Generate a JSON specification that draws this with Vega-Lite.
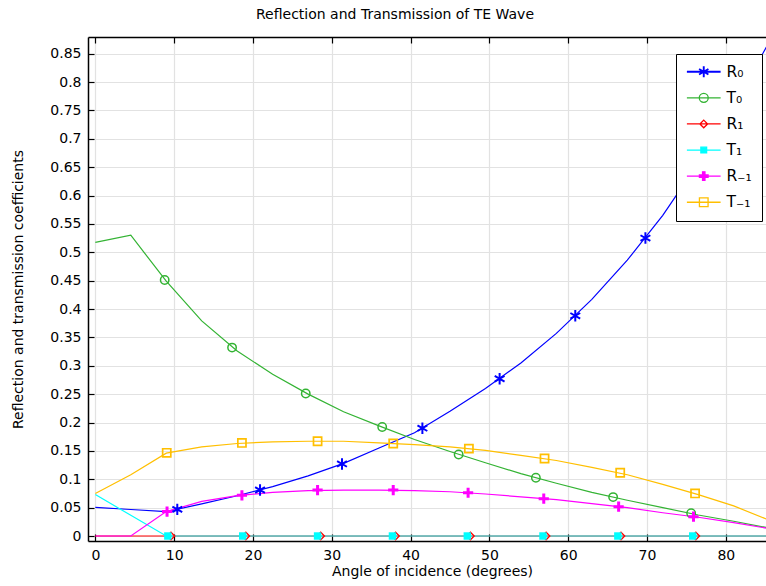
{
  "$schema": "https://vega.github.io/schema/vega-lite/v6.json",
  "width": 678,
  "height": 504,
  "autosize": {"type": "none"},
  "padding": {"left": 88, "top": 37, "right": 0, "bottom": 45},
  "background": "white",
  "title": {"text": "Reflection and Transmission of TE Wave", "fontSize": 14, "fontWeight": "normal", "font": "DejaVu Sans", "color": "black", "anchor": "middle", "dx": -32, "offset": 3, "baseline": "alphabetic"},
  "config": {
    "view": {"stroke": null},
    "font": "DejaVu Sans",
    "axis": {"labelFont": "DejaVu Sans", "titleFont": "DejaVu Sans", "labelFontSize": 14, "titleFontSize": 14, "titleFontWeight": "normal", "labelColor": "black", "titleColor": "black", "domainColor": "black", "domainWidth": 1.5, "tickColor": "black", "tickWidth": 1.2, "gridColor": "#e2e2e2", "gridWidth": 1.2, "gridOpacity": 1}
  },
  "resolve": {"axis": {"x": "independent", "y": "independent"}},
  "datasets": {
    "lines": [
      {"s":"R₀","a":0,"v":0.0505},{"s":"R₀","a":4.5,"v":0.0467},{"s":"R₀","a":9,"v":0.043},{"s":"R₀","a":13.5,"v":0.0565},{"s":"R₀","a":18,"v":0.071},{"s":"R₀","a":22.5,"v":0.087},{"s":"R₀","a":27,"v":0.106},{"s":"R₀","a":31.5,"v":0.128},{"s":"R₀","a":36,"v":0.155},{"s":"R₀","a":40.5,"v":0.182},{"s":"R₀","a":45,"v":0.22},{"s":"R₀","a":49.5,"v":0.26},{"s":"R₀","a":54,"v":0.305},{"s":"R₀","a":58.5,"v":0.357},{"s":"R₀","a":63,"v":0.417},{"s":"R₀","a":67.5,"v":0.486},{"s":"R₀","a":72,"v":0.565},{"s":"R₀","a":76.5,"v":0.657},{"s":"R₀","a":81,"v":0.76},{"s":"R₀","a":85.5,"v":0.87},
      {"s":"T₀","a":0,"v":0.5175},{"s":"T₀","a":4.5,"v":0.53},{"s":"T₀","a":9,"v":0.449},{"s":"T₀","a":13.5,"v":0.379},{"s":"T₀","a":18,"v":0.326},{"s":"T₀","a":22.5,"v":0.285},{"s":"T₀","a":27,"v":0.25},{"s":"T₀","a":31.5,"v":0.219},{"s":"T₀","a":36,"v":0.194},{"s":"T₀","a":40.5,"v":0.17},{"s":"T₀","a":45,"v":0.149},{"s":"T₀","a":49.5,"v":0.129},{"s":"T₀","a":54,"v":0.11},{"s":"T₀","a":58.5,"v":0.093},{"s":"T₀","a":63,"v":0.077},{"s":"T₀","a":67.5,"v":0.063},{"s":"T₀","a":72,"v":0.05},{"s":"T₀","a":76.5,"v":0.037},{"s":"T₀","a":81,"v":0.026},{"s":"T₀","a":85.5,"v":0.014},
      {"s":"R₁","a":0,"v":0},{"s":"R₁","a":4.5,"v":0},{"s":"R₁","a":9,"v":0},{"s":"R₁","a":13.5,"v":0},{"s":"R₁","a":18,"v":0},{"s":"R₁","a":22.5,"v":0},{"s":"R₁","a":27,"v":0},{"s":"R₁","a":31.5,"v":0},{"s":"R₁","a":36,"v":0},{"s":"R₁","a":40.5,"v":0},{"s":"R₁","a":45,"v":0},{"s":"R₁","a":49.5,"v":0},{"s":"R₁","a":54,"v":0},{"s":"R₁","a":58.5,"v":0},{"s":"R₁","a":63,"v":0},{"s":"R₁","a":67.5,"v":0},{"s":"R₁","a":72,"v":0},{"s":"R₁","a":76.5,"v":0},{"s":"R₁","a":81,"v":0},{"s":"R₁","a":85.5,"v":0},
      {"s":"T₁","a":0,"v":0.073},{"s":"T₁","a":4.5,"v":0.0365},{"s":"T₁","a":9,"v":0},{"s":"T₁","a":13.5,"v":0},{"s":"T₁","a":18,"v":0},{"s":"T₁","a":22.5,"v":0},{"s":"T₁","a":27,"v":0},{"s":"T₁","a":31.5,"v":0},{"s":"T₁","a":36,"v":0},{"s":"T₁","a":40.5,"v":0},{"s":"T₁","a":45,"v":0},{"s":"T₁","a":49.5,"v":0},{"s":"T₁","a":54,"v":0},{"s":"T₁","a":58.5,"v":0},{"s":"T₁","a":63,"v":0},{"s":"T₁","a":67.5,"v":0},{"s":"T₁","a":72,"v":0},{"s":"T₁","a":76.5,"v":0},{"s":"T₁","a":81,"v":0},{"s":"T₁","a":85.5,"v":0},
      {"s":"R₋₁","a":0,"v":0},{"s":"R₋₁","a":4.5,"v":0},{"s":"R₋₁","a":9,"v":0.043},{"s":"R₋₁","a":13.5,"v":0.061},{"s":"R₋₁","a":18,"v":0.071},{"s":"R₋₁","a":22.5,"v":0.077},{"s":"R₋₁","a":27,"v":0.08},{"s":"R₋₁","a":31.5,"v":0.081},{"s":"R₋₁","a":36,"v":0.081},{"s":"R₋₁","a":40.5,"v":0.08},{"s":"R₋₁","a":45,"v":0.078},{"s":"R₋₁","a":49.5,"v":0.074},{"s":"R₋₁","a":54,"v":0.069},{"s":"R₋₁","a":58.5,"v":0.064},{"s":"R₋₁","a":63,"v":0.057},{"s":"R₋₁","a":67.5,"v":0.05},{"s":"R₋₁","a":72,"v":0.041},{"s":"R₋₁","a":76.5,"v":0.033},{"s":"R₋₁","a":81,"v":0.0235},{"s":"R₋₁","a":85.5,"v":0.013},
      {"s":"T₋₁","a":0,"v":0.075},{"s":"T₋₁","a":4.5,"v":0.108},{"s":"T₋₁","a":9,"v":0.146},{"s":"T₋₁","a":13.5,"v":0.157},{"s":"T₋₁","a":18,"v":0.163},{"s":"T₋₁","a":22.5,"v":0.166},{"s":"T₋₁","a":27,"v":0.167},{"s":"T₋₁","a":31.5,"v":0.167},{"s":"T₋₁","a":36,"v":0.164},{"s":"T₋₁","a":40.5,"v":0.161},{"s":"T₋₁","a":45,"v":0.157},{"s":"T₋₁","a":49.5,"v":0.151},{"s":"T₋₁","a":54,"v":0.142},{"s":"T₋₁","a":58.5,"v":0.133},{"s":"T₋₁","a":63,"v":0.121},{"s":"T₋₁","a":67.5,"v":0.108},{"s":"T₋₁","a":72,"v":0.091},{"s":"T₋₁","a":76.5,"v":0.073},{"s":"T₋₁","a":81,"v":0.053},{"s":"T₋₁","a":85.5,"v":0.028}
    ],
    "marks": [
      {"s":"R₀","a":10.4,"v":0.047},{"s":"R₀","a":20.9,"v":0.081},{"s":"R₀","a":31.3,"v":0.127},{"s":"R₀","a":41.5,"v":0.19},{"s":"R₀","a":51.3,"v":0.277},{"s":"R₀","a":60.9,"v":0.388},{"s":"R₀","a":69.8,"v":0.525},
      {"s":"T₀","a":8.8,"v":0.451},{"s":"T₀","a":17.35,"v":0.332},{"s":"T₀","a":26.7,"v":0.251},{"s":"T₀","a":36.4,"v":0.192},{"s":"T₀","a":46.1,"v":0.1436},{"s":"T₀","a":55.9,"v":0.1026},{"s":"T₀","a":65.7,"v":0.0686},{"s":"T₀","a":75.6,"v":0.04},
      {"s":"R₁","a":9.6,"v":0},{"s":"R₁","a":19.1,"v":0},{"s":"R₁","a":28.6,"v":0},{"s":"R₁","a":38.1,"v":0},{"s":"R₁","a":47.6,"v":0},{"s":"R₁","a":57.2,"v":0},{"s":"R₁","a":66.7,"v":0},{"s":"R₁","a":76.2,"v":0},
      {"s":"T₁","a":9.2,"v":0},{"s":"T₁","a":18.7,"v":0},{"s":"T₁","a":28.2,"v":0},{"s":"T₁","a":37.7,"v":0},{"s":"T₁","a":47.2,"v":0},{"s":"T₁","a":56.8,"v":0},{"s":"T₁","a":66.3,"v":0},{"s":"T₁","a":75.8,"v":0},
      {"s":"R₋₁","a":9.1,"v":0.043},{"s":"R₋₁","a":18.6,"v":0.0716},{"s":"R₋₁","a":28.2,"v":0.081},{"s":"R₋₁","a":37.8,"v":0.081},{"s":"R₋₁","a":47.3,"v":0.0762},{"s":"R₋₁","a":56.9,"v":0.0657},{"s":"R₋₁","a":66.4,"v":0.0517},{"s":"R₋₁","a":75.9,"v":0.034},
      {"s":"T₋₁","a":9.06,"v":0.1466},{"s":"T₋₁","a":18.6,"v":0.164},{"s":"T₋₁","a":28.2,"v":0.167},{"s":"T₋₁","a":37.8,"v":0.163},{"s":"T₋₁","a":47.4,"v":0.154},{"s":"T₋₁","a":57.0,"v":0.1366},{"s":"T₋₁","a":66.6,"v":0.1114},{"s":"T₋₁","a":76.1,"v":0.075}
    ]
  },
  "layer": [
    {
      "data": {"name": "lines"},
      "mark": {"type": "line", "strokeWidth": 1.2, "clip": true},
      "encoding": {
        "x": {"field": "a", "type": "quantitative", "scale": {"domain": [-0.93, 85.1], "nice": false, "zero": false},
              "axis": {"orient": "bottom", "values": [0,10,20,30,40,50,60,70,80], "format": "d", "grid": true, "tickSize": -7, "labelPadding": 14, "title": "Angle of incidence (degrees)", "titlePadding": 2, "titleX": 344}},
        "y": {"field": "v", "type": "quantitative", "scale": {"domain": [-0.0088, 0.8793], "nice": false, "zero": false},
              "axis": {"orient": "left", "values": [0,0.05,0.1,0.15,0.2,0.25,0.3,0.35,0.4,0.45,0.5,0.55,0.6,0.65,0.7,0.75,0.8,0.85], "format": "~g", "grid": true, "tickSize": -6, "labelPadding": 13, "title": "Reflection and transmission coefficients", "titlePadding": 24}},
        "color": {"field": "s", "type": "nominal",
                  "scale": {"domain": ["R₀","T₀","R₁","T₁","R₋₁","T₋₁"], "range": ["#0000ff","#33b333","#ff0000","#00ffff","#ff00ff","#ffbf00"]},
                  "legend": {"orient": "none", "legendX": 588, "legendY": 17, "title": null, "fillColor": "white", "strokeColor": "black",
                             "padding": 10, "rowPadding": 9.1, "symbolSize": 144, "symbolStrokeWidth": 1.3, "symbolOffset": 10, "labelOffset": 15,
                             "labelFontSize": 15.5, "labelFont": "DejaVu Sans", "labelColor": "black",
                             "encode": {"symbols": {"update": {
                               "shape": {"signal": "datum.value === 'R₀' ? 'M-2.81,0H2.81M0,-0.9V0.9M-0.78,-0.45L0.78,0.45M-0.78,0.45L0.78,-0.45' : datum.value === 'T₀' ? 'M-2.81,0H2.81M-0.75,0A0.75,0.75,0,1,0,0.75,0A0.75,0.75,0,1,0,-0.75,0Z' : datum.value === 'R₁' ? 'M-2.81,0H2.81M0,-0.64L0.64,0L0,0.64L-0.64,0Z' : datum.value === 'T₁' ? 'M-2.81,0H2.81M-0.48,-0.48H0.48V0.48H-0.48Z' : datum.value === 'R₋₁' ? 'M-2.81,0H2.81M-0.2,-0.72H0.2V-0.2H0.72V0.2H0.2V0.72H-0.2V0.2H-0.72V-0.2H-0.2Z' : 'M-2.81,0H2.81M-0.72,-0.72H0.72V0.72H-0.72Z'"},
                               "fillOpacity": {"signal": "datum.value === 'T₁' || datum.value === 'R₋₁' ? 1 : 0"},
                               "strokeWidth": {"signal": "datum.value === 'R₀' ? 1.9 : 1.3"}
                             }}}}}
      }
    },
    {
      "data": {"name": "marks"},
      "transform": [{"filter": "datum.s === 'R₀'"}],
      "mark": {"type": "point", "shape": "M0,-0.95V0.95M-0.82,-0.47L0.82,0.47M-0.82,0.47L0.82,-0.47", "size": 144, "filled": false, "strokeWidth": 2, "opacity": 1, "clip": true},
      "encoding": {
        "x": {"field": "a", "type": "quantitative", "axis": null},
        "y": {"field": "v", "type": "quantitative", "axis": null},
        "color": {"field": "s", "type": "nominal", "legend": null}
      }
    },
    {
      "data": {"name": "marks"},
      "transform": [{"filter": "datum.s === 'T₀'"}],
      "mark": {"type": "point", "shape": "M-0.7,0A0.7,0.7,0,1,0,0.7,0A0.7,0.7,0,1,0,-0.7,0Z", "size": 144, "filled": false, "strokeWidth": 1.5, "opacity": 1, "clip": true},
      "encoding": {
        "x": {"field": "a", "type": "quantitative", "axis": null},
        "y": {"field": "v", "type": "quantitative", "axis": null},
        "color": {"field": "s", "type": "nominal", "legend": null}
      }
    },
    {
      "data": {"name": "marks"},
      "transform": [{"filter": "datum.s === 'R₁'"}],
      "mark": {"type": "point", "shape": "M0,-0.62L0.62,0L0,0.62L-0.62,0Z", "size": 144, "filled": false, "strokeWidth": 1.3, "opacity": 1, "clip": true},
      "encoding": {
        "x": {"field": "a", "type": "quantitative", "axis": null},
        "y": {"field": "v", "type": "quantitative", "axis": null},
        "color": {"field": "s", "type": "nominal", "legend": null}
      }
    },
    {
      "data": {"name": "marks"},
      "transform": [{"filter": "datum.s === 'T₁'"}],
      "mark": {"type": "point", "shape": "M-0.62,-0.62H0.62V0.62H-0.62Z", "size": 144, "filled": true, "opacity": 1, "clip": true},
      "encoding": {
        "x": {"field": "a", "type": "quantitative", "axis": null},
        "y": {"field": "v", "type": "quantitative", "axis": null},
        "color": {"field": "s", "type": "nominal", "legend": null}
      }
    },
    {
      "data": {"name": "marks"},
      "transform": [{"filter": "datum.s === 'R₋₁'"}],
      "mark": {"type": "point", "shape": "M-0.25,-0.85H0.25V-0.25H0.85V0.25H0.25V0.85H-0.25V0.25H-0.85V-0.25H-0.25Z", "size": 144, "filled": true, "opacity": 1, "clip": true},
      "encoding": {
        "x": {"field": "a", "type": "quantitative", "axis": null},
        "y": {"field": "v", "type": "quantitative", "axis": null},
        "color": {"field": "s", "type": "nominal", "legend": null}
      }
    },
    {
      "data": {"name": "marks"},
      "transform": [{"filter": "datum.s === 'T₋₁'"}],
      "mark": {"type": "point", "shape": "M-0.68,-0.68H0.68V0.68H-0.68Z", "size": 144, "filled": false, "strokeWidth": 1.7, "opacity": 1, "clip": true},
      "encoding": {
        "x": {"field": "a", "type": "quantitative",
              "axis": {"orient": "top", "values": [0,10,20,30,40,50,60,70,80], "labels": false, "grid": false, "ticks": true, "tickSize": -6, "title": null}},
        "y": {"field": "v", "type": "quantitative", "axis": null},
        "color": {"field": "s", "type": "nominal", "legend": null}
      }
    }
  ]
}
